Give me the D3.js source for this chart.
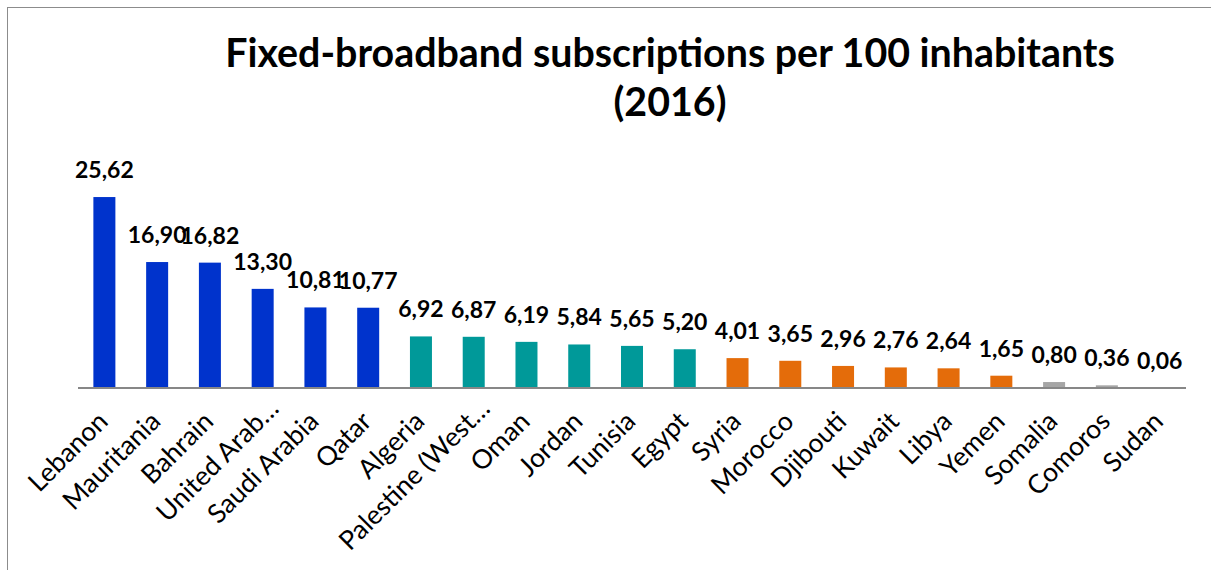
<!DOCTYPE html>
<html>
<head>
<meta charset="utf-8">
<script src="https://cdn.jsdelivr.net/npm/d3@7"></script>
<style>
  html, body { margin: 0; padding: 0; background: #fff; }
  svg { display: block; }
</style>
</head>
<body>
<svg id="chart" width="1211" height="570"></svg>
<script>
// Fixed-broadband subscriptions per 100 inhabitants, 2016
const countries = [
  "Lebanon", "Mauritania", "Bahrain", "United Arab…", "Saudi Arabia", "Qatar",
  "Algeria", "Palestine (West…", "Oman", "Jordan", "Tunisia", "Egypt",
  "Syria", "Morocco", "Djibouti", "Kuwait", "Libya", "Yemen",
  "Somalia", "Comoros", "Sudan"
];
const subscriptions = [
  25.62, 16.90, 16.82, 13.30, 10.81, 10.77,
  6.92, 6.87, 6.19, 5.84, 5.65, 5.20,
  4.01, 3.65, 2.96, 2.76, 2.64, 1.65,
  0.80, 0.36, 0.06
];
// tier of each country (drives bar colour)
const tiers = [
  "high", "high", "high", "high", "high", "high",
  "upper", "upper", "upper", "upper", "upper", "upper",
  "lower", "lower", "lower", "lower", "lower", "lower",
  "low", "low", "low"
];
const tierNames = ["high", "upper", "lower", "low"];
const tierColors = ["#0033cc", "#009999", "#e46c0a", "#a6a6a6"];
const titleLines = ["Fixed-broadband subscriptions per 100 inhabitants", "(2016)"];
const yDomain = [0, 30];

const svg = d3.select("#chart");
const W = 1211, H = 570;
const FONT = "Lato, 'Open Sans', sans-serif";

// frame around the chart area
svg.append("rect")
  .attr("x", 7.5).attr("y", 7.5)
  .attr("width", W + 20).attr("height", H + 20)
  .attr("fill", "none")
  .attr("stroke", "#8c8c8c")
  .attr("stroke-width", 1);

const plot = { left: 78, right: 1186, base: 388, top: 164.4 };

const x = d3.scaleBand()
  .domain(countries)
  .range([plot.left, plot.right])
  .paddingInner(0.583)
  .paddingOuter(0.2915);

const y = d3.scaleLinear()
  .domain(yDomain)
  .range([plot.base, plot.top]);

const color = d3.scaleOrdinal().domain(tierNames).range(tierColors);

const data = countries.map((c, i) => ({ country: c, value: subscriptions[i], tier: tiers[i] }));

// title: sized so the first line spans the same width as the plot heading area
const titleX = 670, titleWidth = 890;
const title = svg.append("text")
  .attr("text-anchor", "middle")
  .attr("font-family", FONT)
  .attr("font-weight", 700)
  .attr("font-size", 35)
  .attr("fill", "#000");
const tspans = title.selectAll("tspan")
  .data(titleLines)
  .join("tspan")
  .attr("x", titleX)
  .attr("y", (d, i) => 67 + i * 49)
  .text(d => d);
const firstLen = tspans.nodes()[0].getComputedTextLength();
if (firstLen > 0) title.attr("font-size", 35 * titleWidth / firstLen);

// bars
svg.append("g")
  .selectAll("rect")
  .data(data)
  .join("rect")
  .attr("x", d => x(d.country))
  .attr("width", x.bandwidth())
  .attr("y", d => y(d.value))
  .attr("height", d => y(0) - y(d.value))
  .attr("fill", d => color(d.tier));

// category axis
const xAxis = d3.axisBottom(x).tickSize(0).tickPadding(0);
const gx = svg.append("g")
  .attr("transform", `translate(0,${plot.base})`)
  .call(xAxis);
gx.select(".domain")
  .attr("d", `M${plot.left},0H${plot.right}`)
  .attr("stroke", "#878787")
  .attr("stroke-width", 2);
gx.selectAll(".tick text")
  .attr("font-family", FONT)
  .attr("font-size", 26.5)
  .attr("fill", "#000")
  .attr("text-anchor", "end")
  .attr("y", null)
  .attr("dy", null)
  // truncated names run a little further along their baseline
  .attr("dx", d => d.endsWith("…") ? 18 : 0)
  .attr("transform", "translate(5,35) rotate(-45)");

// value labels
const fmt = d3.formatLocale({ decimal: ",", thousands: ".", grouping: [3], currency: ["", ""] }).format(".2f");
svg.append("g")
  .selectAll("text")
  .data(data)
  .join("text")
  .attr("x", d => x(d.country) + x.bandwidth() / 2)
  .attr("y", d => y(d.value) - 19)
  .attr("text-anchor", "middle")
  .attr("font-family", FONT)
  .attr("font-weight", 700)
  .attr("font-size", 23)
  .attr("fill", "#000")
  .text(d => fmt(d.value));
</script>
</body>
</html>
